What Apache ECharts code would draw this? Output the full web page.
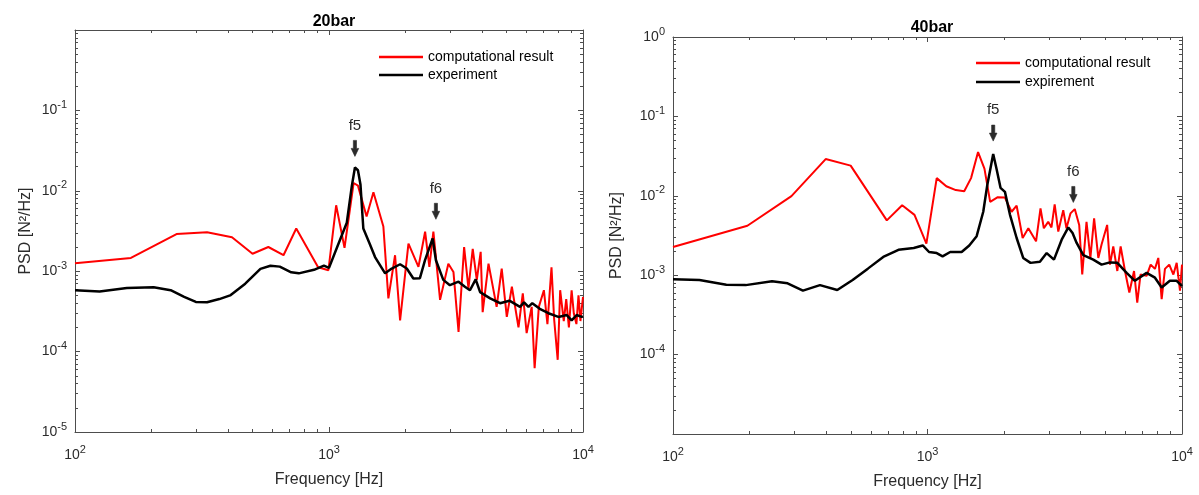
<!DOCTYPE html>
<html>
<head>
<meta charset="utf-8">
<title>PSD 20bar / 40bar</title>
<script src="https://cdn.jsdelivr.net/npm/echarts@6/dist/echarts.min.js"></script>
<style>
html, body { margin: 0; padding: 0; background: #fff; }
#chart { width: 1199px; height: 495px; }
</style>
</head>
<body>
<div id="chart"></div>
<script>
// values: frequency in Hz, PSD in N^2/Hz
const freqCalc20 = [100, 166, 251, 331, 415, 500, 577, 662, 743, 906, 995, 1067, 1151, 1250, 1300, 1406, 1496, 1637, 1713, 1820,
    1905, 2055, 2250, 2390, 2484, 2576, 2737, 2950, 3090, 3236, 3404, 3540, 3680, 3818, 3955, 4027, 4246, 4571, 4786, 5012,
    5248, 5572, 5794, 6000, 6281, 6450, 6700, 7015, 7244, 7516, 7700, 7950, 8130, 8400, 8590, 8800, 9020, 9200, 9420, 9600,
    9770, 10000];
const psdCalc20 = [1.26e-3, 1.46e-3, 2.9e-3, 3.05e-3, 2.65e-3, 1.65e-3, 2.0e-3, 1.58e-3, 3.4e-3, 1.12e-3, 1.03e-3, 6.6e-3, 1.95e-3, 1.25e-2, 1.16e-2, 4.8e-3, 9.6e-3, 3.6e-3, 4.6e-4, 1.58e-3,
    2.45e-4, 2.2e-3, 1.13e-3, 3.1e-3, 1.13e-3, 3.1e-3, 4.4e-4, 1.24e-3, 9.8e-4, 1.76e-4, 2.0e-3, 6.1e-4, 1.9e-3, 7.8e-4, 1.74e-3, 3.1e-4, 1.24e-3, 3.6e-4, 1.08e-3, 2.7e-4,
    6.4e-4, 2.0e-4, 5.3e-4, 1.7e-4, 3.6e-4, 6.2e-5, 3.6e-4, 5.8e-4, 2.2e-4, 1.12e-3, 2.5e-4, 7.9e-5, 5.8e-4, 2.4e-4, 4.5e-4, 2.0e-4, 5.8e-4, 3.0e-4, 2.2e-4, 5.0e-4,
    2.4e-4, 4.8e-4];

const freqExp20 = [100, 125, 160, 204, 238, 269, 299, 331, 370, 408, 468, 537, 588, 640, 710, 760, 873, 955, 1000, 1077,
    1175, 1230, 1265, 1300, 1330, 1365, 1446, 1518, 1663, 1766, 1905, 2024, 2148, 2280, 2388, 2559, 2636, 2818, 2992, 3236,
    3428, 3589, 3780, 3935, 4310, 4714, 5130, 5650, 5860, 6100, 6315, 6760, 7310, 8000, 8630, 9020, 9440, 9880, 10000];
const psdExp20 = [5.8e-4, 5.6e-4, 6.2e-4, 6.3e-4, 5.8e-4, 4.8e-4, 4.15e-4, 4.1e-4, 4.5e-4, 5.0e-4, 7.0e-4, 1.07e-3, 1.17e-3, 1.14e-3, 9.7e-4, 9.4e-4, 1.04e-3, 1.17e-3, 1.1e-3, 2.0e-3,
    4.0e-3, 1.15e-2, 1.95e-2, 1.8e-2, 1.2e-2, 3.4e-3, 2.2e-3, 1.5e-3, 9.4e-4, 1.08e-3, 1.22e-3, 1.08e-3, 8.1e-4, 8.2e-4, 1.37e-3, 2.55e-3, 1.37e-3, 7.8e-4, 6.7e-4, 7.4e-4,
    6.4e-4, 5.8e-4, 7.9e-4, 5.5e-4, 4.6e-4, 4.0e-4, 4.3e-4, 3.6e-4, 4.1e-4, 3.6e-4, 4.0e-4, 3.4e-4, 3.0e-4, 2.7e-4, 2.85e-4, 2.45e-4, 2.85e-4, 2.7e-4, 2.75e-4];

const freqCalc40 = [100, 196, 292, 398, 499, 692, 795, 889, 990, 1087, 1185, 1292, 1394, 1483, 1580, 1674, 1763, 1888, 2015, 2140,
    2240, 2365, 2490, 2670, 2780, 2865, 2980, 3070, 3160, 3265, 3415, 3515, 3645, 3790, 3945, 4055, 4215, 4365, 4515, 4690,
    4830, 5080, 5210, 5370, 5570, 5740, 5970, 6210, 6480, 6670, 6870, 7260, 7530, 7830, 8070, 8320, 8570, 8910, 9250, 9530,
    9820, 10000];
const psdCalc40 = [2.26e-3, 4.2e-3, 9.9e-3, 2.9e-2, 2.4e-2, 4.9e-3, 7.6e-3, 5.75e-3, 2.5e-3, 1.67e-2, 1.32e-2, 1.18e-2, 1.14e-2, 1.67e-2, 3.55e-2, 2.2e-2, 8.4e-3, 9.6e-3, 9.5e-3, 6.3e-3,
    7.5e-3, 2.94e-3, 3.9e-3, 2.67e-3, 6.95e-3, 3.9e-3, 4.7e-3, 4.0e-3, 7.8e-3, 3.55e-3, 6.6e-3, 3.9e-3, 6.0e-3, 6.8e-3, 4.3e-3, 1.02e-3, 4.7e-3, 1.65e-3, 5.2e-3, 1.65e-3,
    2.43e-3, 4.3e-3, 1.36e-3, 2.3e-3, 1.13e-3, 2.3e-3, 1.13e-3, 6.05e-4, 1.13e-3, 4.5e-4, 1.02e-3, 9.8e-4, 1.36e-3, 1.2e-3, 1.65e-3, 5.0e-4, 1.2e-3, 1.36e-3, 1.02e-3, 1.43e-3,
    6.4e-4, 1.36e-3];

const freqExp40 = [100, 127, 162, 193, 245, 282, 324, 378, 442, 508, 583, 670, 769, 883, 958, 1014, 1087, 1146, 1228, 1362,
    1459, 1560, 1656, 1717, 1812, 1868, 1936, 2015, 2108, 2240, 2377, 2540, 2765, 2940, 3140, 3367, 3575, 3715, 3855, 4095,
    4480, 4830, 5210, 5570, 6060, 6530, 7260, 7830, 8320, 8960, 9530, 10000];
const psdExp40 = [8.9e-4, 8.7e-4, 7.6e-4, 7.5e-4, 8.4e-4, 7.9e-4, 6.4e-4, 7.5e-4, 6.5e-4, 8.7e-4, 1.21e-3, 1.7e-3, 2.09e-3, 2.2e-3, 2.37e-3, 1.96e-3, 1.9e-3, 1.73e-3, 1.96e-3, 1.96e-3,
    2.37e-3, 3.1e-3, 6.3e-3, 1.36e-2, 3.37e-2, 2.18e-2, 1.26e-2, 1.12e-2, 5.8e-3, 2.94e-3, 1.65e-3, 1.43e-3, 1.48e-3, 1.9e-3, 1.57e-3, 2.8e-3, 4.0e-3, 3.4e-3, 2.55e-3, 1.79e-3,
    1.57e-3, 1.36e-3, 1.45e-3, 1.43e-3, 1.07e-3, 8.5e-4, 1.07e-3, 9.3e-4, 7.0e-4, 8.5e-4, 8.5e-4, 7.3e-4];

// f5 / f6 arrows: [label, frequency, psd at arrow centre]
const peaks20 = [['f5', 1265, 3.37e-2], ['f6', 2636, 5.56e-3]];
const peaks40 = [['f5', 1812, 6.16e-2], ['f6', 3741, 1.04e-2]];

const xMajorTicks = [100, 1000, 10000];
const yMajorTicks = [1e-5, 1e-4, 1e-3, 1e-2, 1e-1, 1];
const yLabels20 = [1e-5, 1e-4, 1e-3, 1e-2, 1e-1];
const yLabels40 = [1e-4, 1e-3, 1e-2, 1e-1, 1];

// minor ticks 2..9 inside each decade
const minorOf = (majors) => {
    const out = [];
    for (let i = 0; i < majors.length - 1; i++) {
        for (let k = 2; k <= 9; k++) out.push(+(majors[i] * k).toPrecision(3));
    }
    return out;
};
const xMinorTicks = minorOf(xMajorTicks);
const yMinorTicks = minorOf(yMajorTicks);

const axisColor = '#4d4d4d';
const labelColor = '#2b2b2b';
const fontFamily = '"Liberation Sans", Arial, Helvetica, sans-serif';

const powerLabel = v => `10{s|${Math.round(Math.log10(v))}}`;
const labelRich = { s: { fontSize: 11, color: labelColor, padding: [0, 0, 11, 0], fontFamily } };

const makeX = (grid, nameGap) => {
    const base = {
        gridIndex: grid, type: 'log', min: 100, max: 10000,
        splitLine: { show: false }, axisLabel: { show: false },
        axisLine: { show: false }, axisTick: { show: false },
    };
    const line = { show: true, onZero: false, lineStyle: { color: axisColor, width: 1 } };
    const major = { show: true, inside: true, length: 5, customValues: xMajorTicks, lineStyle: { color: axisColor } };
    const minor = { show: true, inside: true, length: 3, customValues: xMinorTicks, lineStyle: { color: axisColor } };
    return [
        {
            ...base, position: 'bottom', axisLine: line, axisTick: major,
            axisLabel: { show: true, customValues: xMajorTicks, formatter: powerLabel, color: labelColor, fontSize: 14, margin: 12, rich: labelRich },
            name: 'Frequency [Hz]', nameLocation: 'middle', nameGap,
            nameTextStyle: { color: labelColor, fontSize: 16, fontFamily },
        },
        { ...base, position: 'bottom', axisTick: minor },
        { ...base, position: 'top', axisLine: line, axisTick: major },
        { ...base, position: 'top', axisTick: minor },
    ];
};

const makeY = (grid, labels, nameGap) => {
    const base = {
        gridIndex: grid, type: 'log', min: 1e-5, max: 1,
        splitLine: { show: false }, axisLabel: { show: false },
        axisLine: { show: false }, axisTick: { show: false },
    };
    const line = { show: true, onZero: false, lineStyle: { color: axisColor, width: 1 } };
    const major = { show: true, inside: true, length: 5, customValues: yMajorTicks, lineStyle: { color: axisColor } };
    const minor = { show: true, inside: true, length: 3, customValues: yMinorTicks, lineStyle: { color: axisColor } };
    return [
        {
            ...base, position: 'left', axisLine: line, axisTick: major,
            axisLabel: { show: true, customValues: labels, formatter: powerLabel, color: labelColor, fontSize: 14, margin: 8, rich: labelRich },
            name: 'PSD [N²/Hz]', nameLocation: 'middle', nameGap,
            nameTextStyle: { color: labelColor, fontSize: 16, fontFamily },
        },
        { ...base, position: 'left', axisTick: minor },
        { ...base, position: 'right', axisLine: line, axisTick: major },
        { ...base, position: 'right', axisTick: minor },
    ];
};

const pairs = (xs, ys) => xs.map((x, i) => [x, ys[i]]);

// thick down arrow used for the f5 / f6 marks
const arrowMarks = peaks => ({
    symbol: 'path://M3.2,0L7.8,0L7.8,8L11,8L5.5,16L0,8L3.2,8Z',
    symbolSize: [11, 16],
    symbolKeepAspect: true,
    silent: true,
    itemStyle: { color: '#2b2b2b', borderColor: '#2b2b2b', borderWidth: 0.6 },
    label: { show: true, position: 'top', distance: 7, color: '#2b2b2b', fontSize: 15, fontFamily, formatter: p => p.name },
    data: peaks.map(p => ({ name: p[0], coord: [p[1], p[2]] })),
});

const lineSeries = (name, grid, data, color, width, peaks) => ({
    name,
    type: 'line',
    xAxisIndex: grid * 4,
    yAxisIndex: grid * 4,
    data,
    symbol: 'none',
    lineStyle: { color, width },
    itemStyle: { color },
    markPoint: peaks ? arrowMarks(peaks) : undefined,
});

const legendBase = {
    orient: 'vertical', icon: 'rect', itemWidth: 44, itemHeight: 2.5, selectedMode: false,
    textStyle: { fontSize: 14, color: '#000', fontFamily },
};

const option = {
    animation: false,
    backgroundColor: '#fff',
    textStyle: { fontFamily },
    title: [
        { text: '20bar', left: 329, top: 9, textAlign: 'center', textStyle: { fontSize: 16, fontWeight: 'bold', color: '#000', fontFamily } },
        { text: '40bar', left: 927, top: 15, textAlign: 'center', textStyle: { fontSize: 16, fontWeight: 'bold', color: '#000', fontFamily } },
    ],
    legend: [
        { ...legendBase, data: ['computational result', 'experiment'], left: 374, top: 45, itemGap: 4 },
        { ...legendBase, data: ['computational result', 'expirement'], left: 971, top: 51, itemGap: 5 },
    ],
    grid: [
        { left: 75, top: 30, width: 508, height: 402, containLabel: false },
        { left: 673, top: 37, width: 509, height: 401, containLabel: false },
    ],
    xAxis: [...makeX(0, 40), ...makeX(1, 40)],
    yAxis: [...makeY(0, yLabels20, 41), ...makeY(1, yLabels40, 48)],
    series: [
        lineSeries('computational result', 0, pairs(freqCalc20, psdCalc20), '#ff0000', 2),
        lineSeries('experiment', 0, pairs(freqExp20, psdExp20), '#000000', 2.5, peaks20),
        lineSeries('computational result', 1, pairs(freqCalc40, psdCalc40), '#ff0000', 2),
        lineSeries('expirement', 1, pairs(freqExp40, psdExp40), '#000000', 2.5, peaks40),
    ],
};

const chart = echarts.init(document.getElementById('chart'), null, { renderer: 'canvas' });
chart.setOption(option);
window.addEventListener('resize', () => chart.resize());
</script>
</body>
</html>
